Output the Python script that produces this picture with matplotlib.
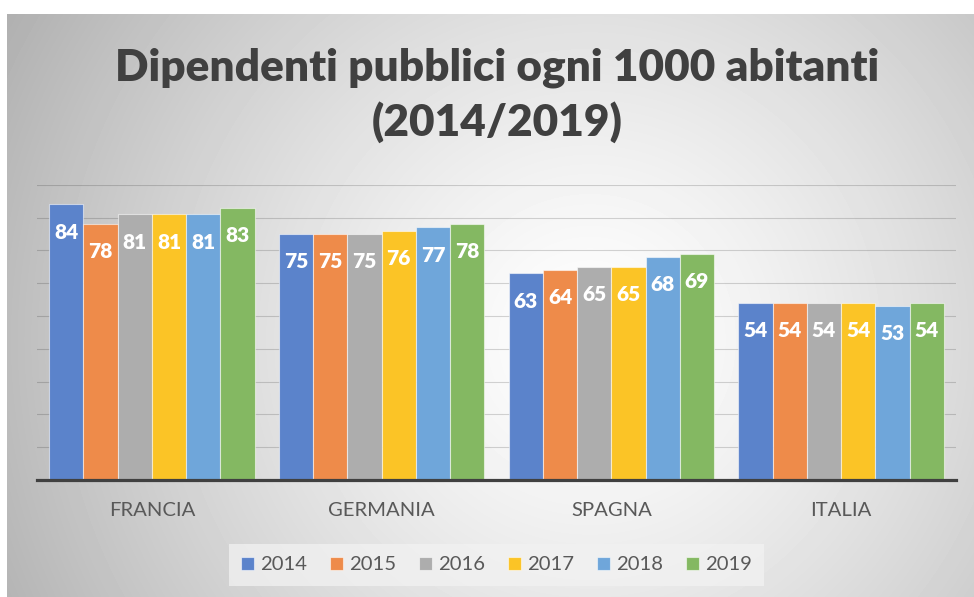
import matplotlib
matplotlib.use('Agg')
import matplotlib.pyplot as plt
import numpy as np

categories = ['FRANCIA', 'GERMANIA', 'SPAGNA', 'ITALIA']
years = ['2014', '2015', '2016', '2017', '2018', '2019']
values_2014 = [84, 75, 63, 54]
values_2015 = [78, 75, 64, 54]
values_2016 = [81, 75, 65, 54]
values_2017 = [81, 76, 65, 54]
values_2018 = [81, 77, 68, 53]
values_2019 = [83, 78, 69, 54]
series = [values_2014, values_2015, values_2016, values_2017, values_2018, values_2019]
colors = ['#5B83CB', '#EE8B4A', '#ADADAD', '#FBC426', '#6FA6DA', '#84B862']

title_line1 = 'Dipendenti pubblici ogni 1000 abitanti'
title_line2 = '(2014/2019)'

FONT = ['Lato', 'DejaVu Sans']
plt.rcParams['font.family'] = FONT

W, H = 974, 597
fig = plt.figure(figsize=(W / 100, H / 100), dpi=100)
fig.patch.set_facecolor('white')

# radial gradient background of chart area
bg = fig.add_axes([7 / W, 0, (W - 7) / W, (H - 14) / H], zorder=0)
xs = np.arange(7, W) + 0.5
ys = np.arange(14, H) + 0.5
X, Y = np.meshgrid(xs, ys)
d = np.hypot(X - 590, Y - 340)
v = 1 - 0.27 * np.clip(d / 600, 0, 1.2) ** 1.3
bg.imshow(v, cmap='gray', vmin=0, vmax=1, aspect='auto', extent=(0, 1, 0, 1),
          origin='upper', interpolation='bilinear')
bg.axis('off')

ax = fig.add_axes([37 / W, (H - 480) / H, 919 / W, 295.3 / H], zorder=1)
ax.patch.set_alpha(0)

x = np.arange(len(categories))
bw = 0.149
handles = []
for i, (vals, col) in enumerate(zip(series, colors)):
    pos = x + (i - 2.5) * bw
    b = ax.bar(pos, vals, bw, color=col, edgecolor=(1, 1, 1, 0.55), linewidth=0.8, zorder=3)
    handles.append(b)
    for px, val in zip(pos, vals):
        ax.annotate(str(val), xy=(px, val), xytext=(0, -34.3), textcoords='offset pixels',
                    ha='center', va='baseline', color='white', fontweight='heavy',
                    fontsize=15, zorder=5)

ax.set_xlim(-0.5, 3.5)
ax.set_ylim(0, 90)
ax.set_yticks(range(0, 91, 10))
ax.yaxis.grid(True, color='#000000', alpha=0.16, lw=0.8)
ax.set_axisbelow(True)
ax.set_xticks(x)
ax.set_xticklabels(categories, fontsize=14.6, color='#595959')
ax.tick_params(axis='x', length=0, pad=16)
ax.tick_params(axis='y', left=False, labelleft=False)
for s in ['top', 'left', 'right']:
    ax.spines[s].set_visible(False)
ax.spines['bottom'].set_color('#404040')
ax.spines['bottom'].set_linewidth(2.3)
ax.spines['bottom'].set_zorder(4)

# Title, fitted to the reference width
t1 = fig.text(497 / W, 1 - 80 / H, title_line1, ha='center', va='baseline',
              fontsize=30, fontweight='heavy', color='#404040')
fig.canvas.draw()
r = fig.canvas.get_renderer()
w1 = t1.get_window_extent(r).width
fs = 30 * 762 / w1
t1.set_fontsize(fs)
fig.text(497 / W, 1 - 136 / H, title_line2, ha='center', va='baseline',
         fontsize=fs, fontweight='heavy', color='#404040')

leg = fig.legend(handles, years, loc='center', bbox_to_anchor=(496.5 / W, 1 - 565 / H),
                 ncol=6, fontsize=14.6, frameon=True, facecolor='#F2F2F2', edgecolor='none',
                 framealpha=0.75, fancybox=False, handlelength=0.62, handleheight=0.62,
                 handletextpad=0.3, columnspacing=1.15, borderpad=0.6, borderaxespad=0)
for txt in leg.get_texts():
    txt.set_color('#595959')

fig.savefig('out.png', dpi=100)
